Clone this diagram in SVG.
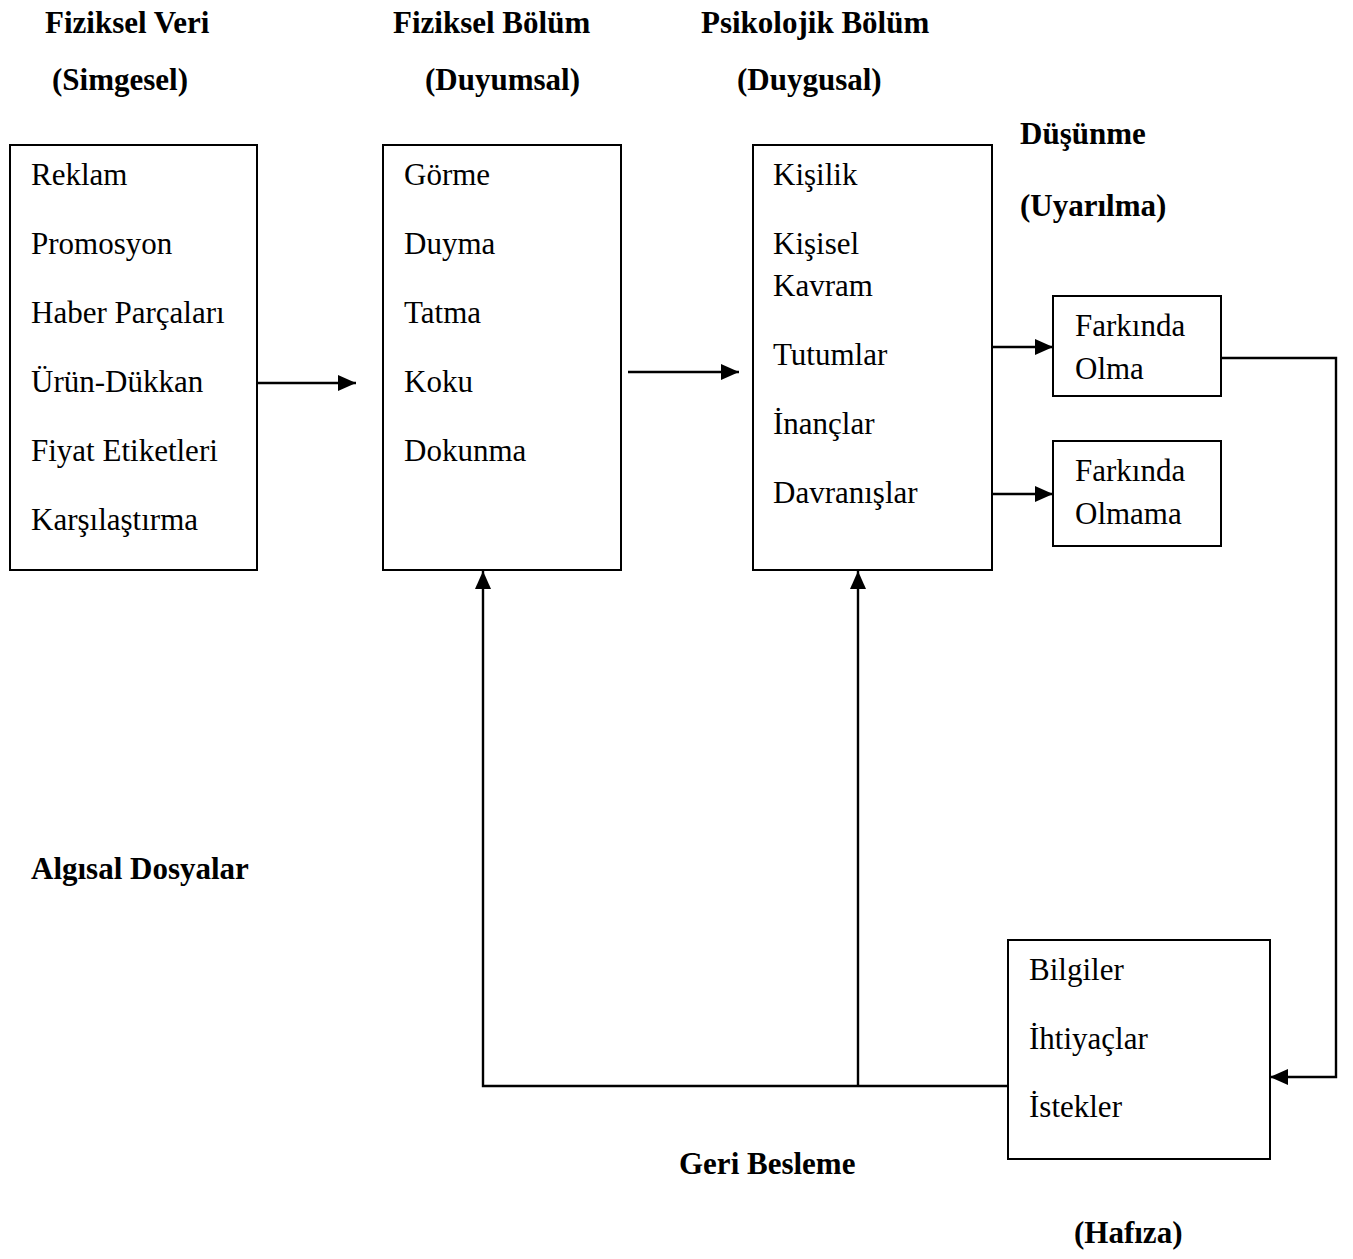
<svg xmlns="http://www.w3.org/2000/svg" width="1353" height="1259" viewBox="0 0 1353 1259">
<style>
text{font-family:"Liberation Serif","Times New Roman",serif;font-size:31px;fill:#000}
.b{font-weight:bold}
.box{fill:#fff;stroke:#000;stroke-width:2}
.ln{fill:none;stroke:#000;stroke-width:2.4}
</style>
<defs>
<marker id="ah" markerUnits="userSpaceOnUse" markerWidth="18" markerHeight="16" refX="18" refY="8" orient="auto">
<path d="M0,0 L18,8 L0,16 Z" fill="#000"/>
</marker>
</defs>
<rect width="1353" height="1259" fill="#fff"/>
<g id="titles">
<text class="b" x="45" y="33">Fiziksel Veri</text>
<text class="b" x="52" y="90">(Simgesel)</text>
<text class="b" x="393" y="33">Fiziksel Bölüm</text>
<text class="b" x="425" y="90">(Duyumsal)</text>
<text class="b" x="701" y="33">Psikolojik Bölüm</text>
<text class="b" x="737" y="90">(Duygusal)</text>
<text class="b" x="1020" y="144">Düşünme</text>
<text class="b" x="1020" y="216">(Uyarılma)</text>
<text class="b" x="31" y="879">Algısal Dosyalar</text>
<text class="b" x="679" y="1174">Geri Besleme</text>
<text class="b" x="1074" y="1243">(Hafıza)</text>
</g>
<g id="n1">
<rect class="box" x="10" y="145" width="247" height="425"/>
<text x="31" y="185">Reklam</text>
<text x="31" y="254">Promosyon</text>
<text x="31" y="323">Haber Parçaları</text>
<text x="31" y="392">Ürün-Dükkan</text>
<text x="31" y="461">Fiyat Etiketleri</text>
<text x="31" y="530">Karşılaştırma</text>
</g>
<g id="n2">
<rect class="box" x="383" y="145" width="238" height="425"/>
<text x="404" y="185">Görme</text>
<text x="404" y="254">Duyma</text>
<text x="404" y="323">Tatma</text>
<text x="404" y="392">Koku</text>
<text x="404" y="461">Dokunma</text>
</g>
<g id="n3">
<rect class="box" x="753" y="145" width="239" height="425"/>
<text x="773" y="185">Kişilik</text>
<text x="773" y="254">Kişisel</text>
<text x="773" y="296">Kavram</text>
<text x="773" y="365">Tutumlar</text>
<text x="773" y="434">İnançlar</text>
<text x="773" y="503">Davranışlar</text>
</g>
<g id="n4">
<rect class="box" x="1053" y="296" width="168" height="100"/>
<text x="1075" y="336">Farkında</text>
<text x="1075" y="379">Olma</text>
</g>
<g id="n5">
<rect class="box" x="1053" y="441" width="168" height="105"/>
<text x="1075" y="481">Farkında</text>
<text x="1075" y="524">Olmama</text>
</g>
<g id="n6">
<rect class="box" x="1008" y="940" width="262" height="219"/>
<text x="1029" y="980">Bilgiler</text>
<text x="1029" y="1049">İhtiyaçlar</text>
<text x="1029" y="1117">İstekler</text>
</g>
<g id="connectors">
<line class="ln" x1="257" y1="383" x2="356" y2="383" marker-end="url(#ah)"/>
<line class="ln" x1="628" y1="372" x2="739" y2="372" marker-end="url(#ah)"/>
<line class="ln" x1="992" y1="347" x2="1053" y2="347" marker-end="url(#ah)"/>
<line class="ln" x1="992" y1="494" x2="1053" y2="494" marker-end="url(#ah)"/>
<polyline class="ln" points="1221,358 1336,358 1336,1077 1270,1077" marker-end="url(#ah)"/>
<polyline class="ln" points="1008,1086 483,1086 483,571" marker-end="url(#ah)"/>
<line class="ln" x1="858" y1="1086" x2="858" y2="571" marker-end="url(#ah)"/>
</g>
</svg>
